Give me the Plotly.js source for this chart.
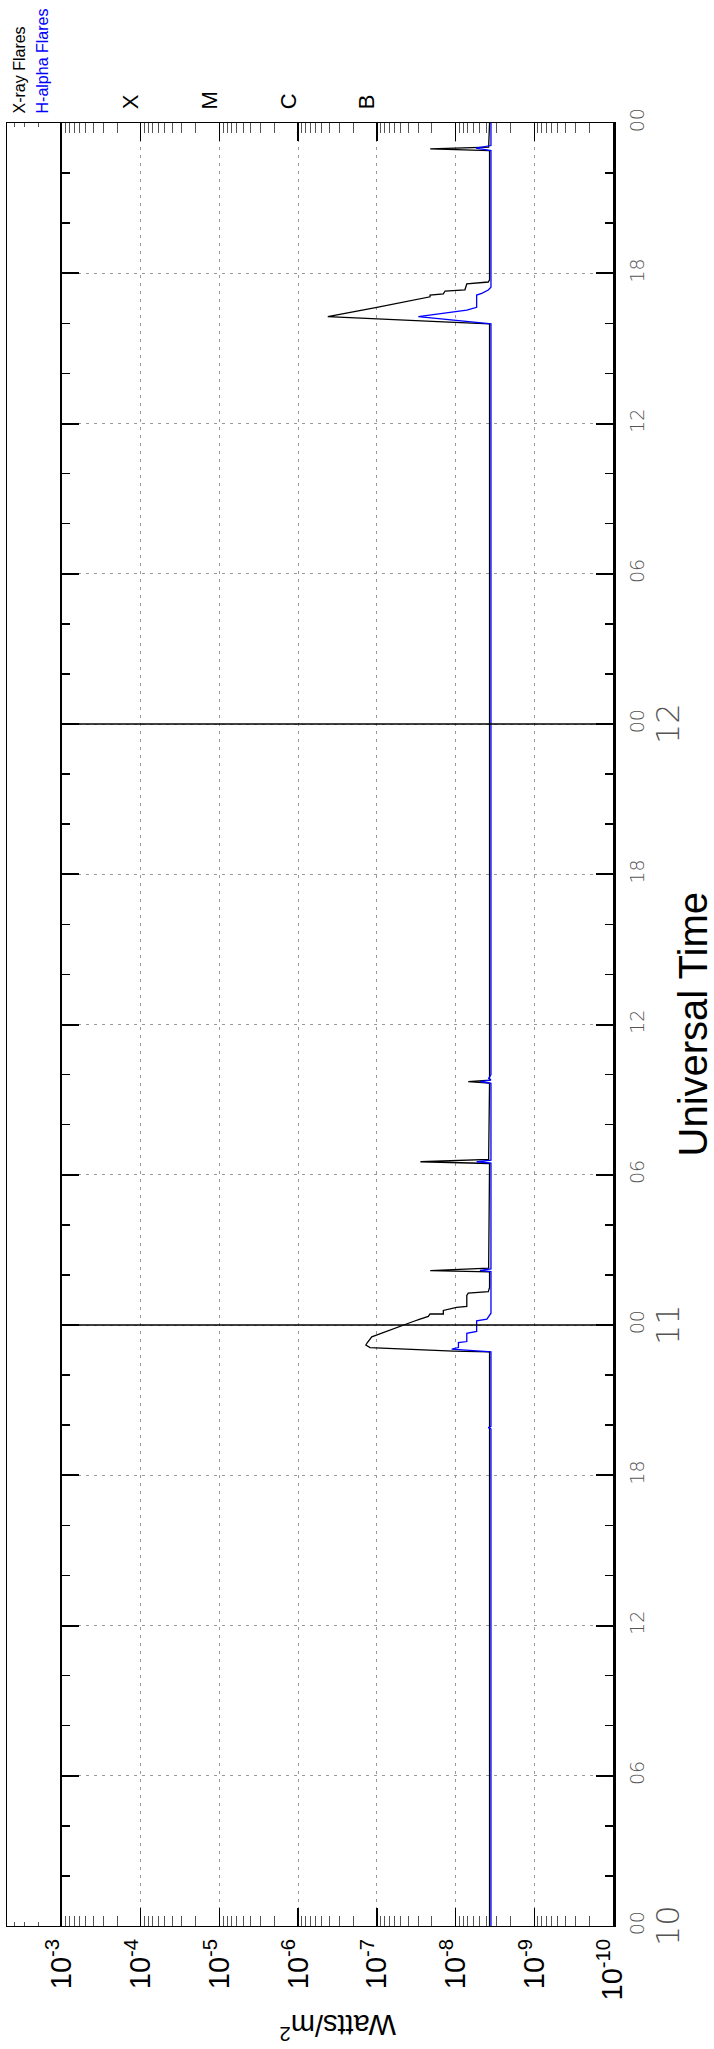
<!DOCTYPE html>
<html>
<head>
<meta charset="utf-8">
<script src="https://cdn.plot.ly/plotly-3.0.1.min.js"></script>
<style>
html,body{margin:0;padding:0;background:#fff;}
#chart{width:714px;height:2049px;}
</style>
</head>
<body>
<div id="chart"></div>
<script>
// Time in hours since day 10, 00:00 UT
const xrayTime = [0, 6, 12, 18, 22.93, 22.96, 23.04, 23.10, 23.20, 23.30, 23.53, 23.96, 24.04, 24.14, 24.23, 24.34, 24.44, 24.44, 24.58, 24.70, 24.74, 25.18, 25.27, 25.33, 25.50,
  26.12, 26.17, 26.27, 30.45, 30.52, 30.61, 33.66, 33.72, 33.78, 40, 48, 56,
  63.98, 64.06, 64.27, 64.64, 64.97, 65.06, 65.13, 65.18, 65.29, 65.34, 65.58, 65.65, 65.74,
  70.90, 70.97, 71.04, 72];
const xrayFlux = [3.7e-9, 3.7e-9, 3.65e-9, 3.7e-9, 3.7e-9, 1.07e-8, 5.1e-8, 1.22e-7, 1.38e-7, 1.32e-7, 1.16e-7, 5.1e-8, 4.2e-8, 3.45e-8, 2.83e-8, 2.22e-8, 2.11e-8, 1.43e-8, 1.43e-8, 9.7e-9, 7.2e-9, 7.2e-9, 6.9e-9, 3.84e-9, 3.7e-9,
  3.7e-9, 2.1e-8, 3.8e-9, 3.7e-9, 2.8e-8, 3.8e-9, 3.7e-9, 6.9e-9, 3.7e-9, 3.7e-9, 3.7e-9, 3.7e-9,
  3.7e-9, 1.43e-8, 4.2e-7, 1.0e-7, 2.83e-8, 2.11e-8, 2.11e-8, 1.43e-8, 1.36e-8, 7.6e-9, 7.2e-9, 3.84e-9, 3.7e-9,
  3.7e-9, 2.1e-8, 3.8e-9, 3.7e-9];

const shortTime = [0, 8, 16, 19.85, 19.90, 19.95, 22.93, 23.04, 23.10, 23.30, 23.34, 23.67, 23.74, 24.17, 24.23, 24.47,
  26.13, 26.18, 26.24, 30.47, 30.52, 30.58, 33.65, 33.72, 33.78, 33.85, 34.00, 40, 48, 56,
  63.98, 64.27, 64.53, 64.64, 65.13, 65.20, 65.33, 65.44, 70.90, 71.00, 71.10, 72];
const shortFlux = [3.55e-9, 3.55e-9, 3.55e-9, 3.55e-9, 3.84e-9, 3.55e-9, 3.55e-9, 1.12e-8, 9.2e-9, 9.2e-9, 7.2e-9, 7.2e-9, 5.4e-9, 5.4e-9, 4.0e-9, 3.55e-9,
  3.55e-9, 4.9e-9, 3.55e-9, 3.55e-9, 5.4e-9, 3.55e-9, 3.55e-9, 4.9e-9, 3.55e-9, 3.8e-9, 3.55e-9, 3.55e-9, 3.55e-9, 3.55e-9,
  3.55e-9, 2.97e-8, 7.2e-9, 5.4e-9, 5.4e-9, 4.65e-9, 3.84e-9, 3.55e-9, 3.55e-9, 5.5e-9, 3.55e-9, 3.55e-9];

const fluxTicks = [1e-3, 1e-4, 1e-5, 1e-6, 1e-7, 1e-8, 1e-9, 1e-10];
const fluxTickText = ['10<sup>-3</sup>', '10<sup>-4</sup>', '10<sup>-5</sup>', '10<sup>-6</sup>', '10<sup>-7</sup>', '10<sup>-8</sup>', '10<sup>-9</sup>', '10<sup>-10</sup>'];
const hourTicks = [0, 6, 12, 18, 24, 30, 36, 42, 48, 54, 60, 66, 72];
const hourTickText = ['00', '06', '12', '18', '00', '06', '12', '18', '00', '06', '12', '18', '00'];
const dayStarts = [0, 24, 48];
const dayLabels = ['10', '11', '12'];
const dayBoundaries = [24, 48];
const flareClasses = ['X', 'M', 'C', 'B'];
const flareClassFlux = [1e-4, 1e-5, 1e-6, 1e-7];
const stripTicks = [2e-3, 3e-3, 4e-3];

// minor log ticks (2..9 x 10^k)
const minorFluxTicks = [];
for (let e = -10; e < -3; e++) {
  for (let m = 2; m <= 9; m++) minorFluxTicks.push(m * Math.pow(10, e));
}

const FONT = 'Liberation Sans, Arial, Helvetica, sans-serif';
const THIN = 'DejaVu Sans, Liberation Sans, sans-serif';
const traces = [
  {x: xrayFlux, y: xrayTime, type: 'scatter', mode: 'lines', xaxis: 'x', yaxis: 'y',
   line: {color: '#000000', width: 1.3}, hoverinfo: 'skip', showlegend: false},
  {x: shortFlux, y: shortTime, type: 'scatter', mode: 'lines', xaxis: 'x', yaxis: 'y',
   line: {color: '#0000ff', width: 1.3}, hoverinfo: 'skip', showlegend: false},
  {x: [], y: [], type: 'scatter', mode: 'lines', xaxis: 'x2', yaxis: 'y3', hoverinfo: 'skip', showlegend: false}
];

const stripFrac = 55 / 606;
const annotations = [];
dayStarts.forEach((h, i) => annotations.push({
  xref: 'paper', yref: 'y', x: (668 - 7) / 606, y: h, text: dayLabels[i], showarrow: false,
  textangle: -90, xanchor: 'center', yanchor: 'middle', font: {family: THIN, size: 32, weight: 200, color: '#555555'}
}));
flareClasses.forEach((c, i) => annotations.push({
  xref: 'x', yref: 'paper', x: Math.log10(flareClassFlux[i]) + 0.127, y: (1926 - 111) / 1803, text: c, showarrow: false,
  textangle: -90, xanchor: 'center', yanchor: 'bottom', font: {family: FONT, size: 22, color: '#000000'}
}));
annotations.push({xref: 'paper', yref: 'paper', x: (692 - 7) / 606, y: 0.5, text: 'Universal Time', showarrow: false,
  textangle: -90, xanchor: 'center', yanchor: 'middle', font: {family: FONT, size: 40, color: '#000000'}});
annotations.push({xref: 'x domain', yref: 'paper', x: 0.5, y: (1926 - 2027) / 1803, text: 'Watts/m<sup>2</sup>', showarrow: false,
  textangle: 180, xanchor: 'center', yanchor: 'middle', font: {family: FONT, size: 29, color: '#000000'}});
annotations.push({xref: 'paper', yref: 'paper', x: (19 - 7) / 606, y: (1926 - 116) / 1803, text: 'X-ray Flares', showarrow: false,
  textangle: -90, xanchor: 'center', yanchor: 'bottom', font: {family: FONT, size: 16, color: '#000000'}});
annotations.push({xref: 'paper', yref: 'paper', x: (42 - 7) / 606, y: (1926 - 116) / 1803, text: 'H-alpha Flares', showarrow: false,
  textangle: -90, xanchor: 'center', yanchor: 'bottom', font: {family: FONT, size: 16, color: '#0000ff'}});

const shapes = dayBoundaries.map(h => ({
  type: 'line', xref: 'x domain', yref: 'y', x0: 0, x1: 1, y0: h, y1: h,
  line: {color: '#000000', width: 1.3}, layer: 'above'
}));

const layout = {
  width: 714, height: 2049,
  margin: {l: 7, r: 101, t: 123, b: 123, pad: 0},
  paper_bgcolor: '#ffffff', plot_bgcolor: '#ffffff',
  showlegend: false,
  font: {family: FONT},
  xaxis: {
    domain: [stripFrac, 1], anchor: 'y', type: 'log', range: [-3, -10],
    showline: true, linecolor: '#000', linewidth: 1.3, mirror: 'allticks',
    ticks: 'inside', ticklen: 18, tickwidth: 1.3, tickcolor: '#000',
    tickmode: 'array', tickvals: fluxTicks, ticktext: fluxTickText, tickangle: -90,
    tickfont: {family: FONT, size: 29, color: '#000'},
    showgrid: true, gridcolor: '#999999', gridwidth: 1, griddash: '3px,5px', zeroline: false,
    minor: {tickmode: 'array', tickvals: minorFluxTicks, ticks: 'inside', ticklen: 10, tickwidth: 1, tickcolor: '#555', showgrid: false}
  },
  yaxis: {
    domain: [0, 1], anchor: 'x', side: 'right', range: [0, 72],
    showline: true, linecolor: '#000', linewidth: 2.5, mirror: 'allticks',
    ticks: 'inside', ticklen: 17, tickwidth: 2, tickcolor: '#000',
    tickmode: 'array', tickvals: hourTicks, ticktext: hourTickText, tickangle: -90,
    ticklabelstandoff: 6,
    tickfont: {family: THIN, size: 19, weight: 200, color: '#555555'},
    showgrid: true, gridcolor: '#999999', gridwidth: 1, griddash: '3px,5px', zeroline: false,
    minor: {dtick: 2, tick0: 0, ticks: 'inside', ticklen: 8, tickwidth: 1.5, tickcolor: '#000', showgrid: false}
  },
  xaxis2: {
    domain: [0, stripFrac], anchor: 'y3', type: 'log', range: [-2.3, -3],
    showline: true, linecolor: '#000', linewidth: 1, mirror: 'allticks',
    ticks: 'inside', ticklen: 4, tickwidth: 1, tickcolor: '#555',
    tickmode: 'array', tickvals: stripTicks, showticklabels: false, showgrid: false, zeroline: false
  },
  yaxis3: {
    domain: [0, 1], anchor: 'x2', range: [0, 72], side: 'left',
    showline: true, linecolor: '#000', linewidth: 1, mirror: false,
    ticks: '', showticklabels: false, showgrid: false, zeroline: false
  },
  annotations: annotations,
  shapes: shapes
};

Plotly.newPlot('chart', traces, layout, {staticPlot: true, displayModeBar: false});
</script>
</body>
</html>
